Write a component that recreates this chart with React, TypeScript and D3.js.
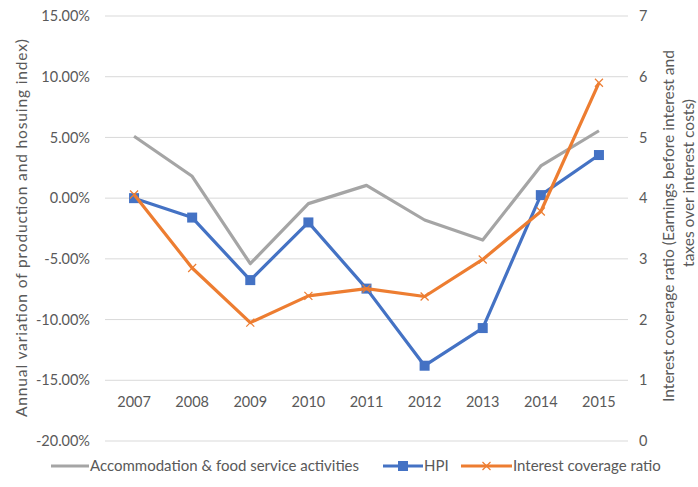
import React from "react";
import * as d3 from "d3";

const years = ["2007", "2008", "2009", "2010", "2011", "2012", "2013", "2014", "2015"];
const accommodation = [5.1, 1.8, -5.4, -0.45, 1.05, -1.8, -3.45, 2.65, 5.55];
const hpi = [0.0, -1.6, -6.75, -2.0, -7.45, -13.8, -10.7, 0.25, 3.55];
const icr = [4.06, 2.85, 1.95, 2.39, 2.51, 2.38, 2.99, 3.78, 5.9];
const leftTicks = [15, 10, 5, 0, -5, -10, -15, -20];
const rightTicks = [0, 1, 2, 3, 4, 5, 6, 7];

const W = 698, H = 487;
const FONT = "Lato, 'Open Sans', sans-serif";
const TXT = "#595959";

export default function App() {
  const x = d3.scaleBand().domain(years).range([105, 628]);
  const yL = d3.scaleLinear().domain([-20, 15]).range([441, 16]);
  const yR = d3.scaleLinear().domain([0, 7]).range([441, 16]);
  const cx = (y: string) => (x(y) as number) + x.bandwidth() / 2;

  const lineL = d3.line<number>().x((_, i) => cx(years[i])).y((d) => yL(d));
  const lineR = d3.line<number>().x((_, i) => cx(years[i])).y((d) => yR(d));

  const gray = "#A5A5A5", blue = "#4472C4", orange = "#ED7D31";

  return (
    <svg width={W} height={H} style={{ display: "block", position: "absolute", left: 0, top: 0, background: "#fff" }}>
      <rect width={W} height={H} fill="#fff" />
      {leftTicks.map((t) => (
        <line key={t} x1={105} x2={628} y1={yL(t)} y2={yL(t)} stroke="#D9D9D9" strokeWidth={1} />
      ))}
      {leftTicks.map((t) => (
        <text key={"l" + t} x={90} y={yL(t)} dy="0.35em" textAnchor="end" fontFamily={FONT} fontSize={14.5} fill={TXT}>
          {t.toFixed(2) + "%"}
        </text>
      ))}
      {rightTicks.map((t) => (
        <text key={"r" + t} x={639} y={yR(t)} dy="0.35em" textAnchor="start" fontFamily={FONT} fontSize={14.5} fill={TXT}>
          {t}
        </text>
      ))}
      {years.map((y) => (
        <text key={y} x={cx(y)} y={402} dy="0.35em" textAnchor="middle" fontFamily={FONT} fontSize={14.5} fill={TXT}>
          {y}
        </text>
      ))}
      <text transform="translate(22,228) rotate(-90)" textAnchor="middle" dy="0.35em" fontFamily={FONT} fontSize={15.5} fill={TXT} textLength={378} lengthAdjust="spacing">
        Annual variation of production and hosuing index)
      </text>
      <text transform="translate(669,226) rotate(-90)" textAnchor="middle" dy="0.35em" fontFamily={FONT} fontSize={15.5} fill={TXT}>
        Interest coverage ratio (Earnings before interest and
      </text>
      <text transform="translate(689,183) rotate(-90)" textAnchor="middle" dy="0.35em" fontFamily={FONT} fontSize={15.5} fill={TXT}>
        taxes over interest costs)
      </text>

      <path d={lineL(accommodation) || ""} fill="none" stroke={gray} strokeWidth={3.2} strokeLinejoin="round" />
      <path d={lineL(hpi) || ""} fill="none" stroke={blue} strokeWidth={3.2} strokeLinejoin="round" />
      {hpi.map((v, i) => (
        <rect key={i} x={cx(years[i]) - 5} y={yL(v) - 5} width={10} height={10} fill={blue} />
      ))}
      <path d={lineR(icr) || ""} fill="none" stroke={orange} strokeWidth={3.2} strokeLinejoin="round" />
      {icr.map((v, i) => {
        const px = cx(years[i]), py = yR(v);
        return (
          <path key={i} d={`M${px - 4},${py - 4}L${px + 4},${py + 4}M${px - 4},${py + 4}L${px + 4},${py - 4}`} stroke={orange} strokeWidth={1.2} fill="none" />
        );
      })}

      {/* legend */}
      <line x1={51} x2={89} y1={466} y2={466} stroke={gray} strokeWidth={3.2} />
      <text x={90} y={466} dy="0.35em" fontFamily={FONT} fontSize={15} fill={TXT}>Accommodation &amp; food service activities</text>
      <line x1={383} x2={423} y1={466} y2={466} stroke={blue} strokeWidth={3.2} />
      <rect x={398} y={461} width={10} height={10} fill={blue} />
      <text x={424} y={466} dy="0.35em" fontFamily={FONT} fontSize={15} fill={TXT}>HPI</text>
      <line x1={461} x2={512} y1={466} y2={466} stroke={orange} strokeWidth={3.2} />
      <path d="M482.5,462L490.5,470M482.5,470L490.5,462" stroke={orange} strokeWidth={1.2} />
      <text x={513} y={466} dy="0.35em" fontFamily={FONT} fontSize={15} fill={TXT}>Interest coverage ratio</text>
    </svg>
  );
}
